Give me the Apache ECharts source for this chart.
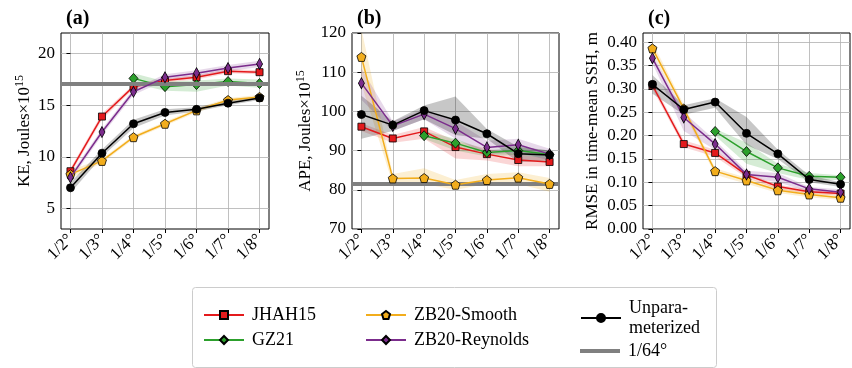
<!DOCTYPE html>
<html>
<head>
<meta charset="utf-8">
<script src="https://cdn.jsdelivr.net/npm/echarts@6/dist/echarts.min.js"></script>
<style>
html,body{margin:0;padding:0;background:#fff}
#chart{width:852px;height:368px}
</style>
</head>
<body>
<div id="chart"></div>
<script>
// resolutions on the x axis
const xLabels = ['1/2°', '1/3°', '1/4°', '1/5°', '1/6°', '1/7°', '1/8°'];
const xIdx = [0, 1, 2, 3, 4, 5, 6];
const _ = null;

// (a) kinetic energy
const keJHAH   = [8.6, 13.9, 16.8, 17.4, 17.7, 18.3, 18.2];
const keGZ     = [_, _, 17.6, 16.8, 17.0, 17.3, 17.1];
const keSmooth = [8.3, 9.6, 11.9, 13.2, 14.5, 15.5, 15.8];
const keReyn   = [8.0, 12.4, 16.3, 17.7, 18.1, 18.6, 19.0];
const keUnp    = [7.0, 10.35, 13.2, 14.3, 14.6, 15.2, 15.7];
const keLo = [
  [8.3, 13.6, 16.6, 17.2, 17.5, 18.1, 18.0],
  [_, _, 17.1, 16.4, 16.3, 16.9, 16.7],
  [7.9, 9.4, 11.7, 13.0, 14.3, 15.3, 15.6],
  [7.7, 12.1, 16.0, 17.4, 17.8, 18.3, 18.7],
  [6.5, 10.0, 12.8, 14.0, 14.4, 15.0, 15.5]
];
const keHi = [
  [8.9, 14.2, 17.0, 17.6, 17.9, 18.5, 18.4],
  [_, _, 18.1, 17.3, 17.4, 17.6, 17.5],
  [8.7, 9.8, 12.1, 13.4, 14.7, 15.7, 16.0],
  [8.3, 12.7, 16.6, 18.0, 18.4, 18.9, 19.3],
  [7.5, 10.7, 13.6, 14.6, 14.8, 15.4, 15.9]
];
const keRef = 17.05;
const keTicks = [5, 10, 15, 20];

// (b) available potential energy
const apeJHAH   = [96.1, 93.1, 94.9, 90.9, 89.1, 87.6, 87.1];
const apeGZ     = [_, _, 93.8, 91.9, 89.5, 90.0, 89.0];
const apeSmooth = [113.9, 82.9, 83.0, 81.3, 82.5, 83.1, 81.5];
const apeReyn   = [107.2, 96.3, 99.3, 95.6, 90.8, 91.5, 89.1];
const apeUnp    = [99.2, 96.5, 100.2, 97.8, 94.3, 89.2, 88.9];
const apeLo = [
  [95.0, 92.0, 93.0, 88.0, 87.5, 86.0, 86.0],
  [_, _, 93.0, 90.0, 88.5, 89.0, 88.0],
  [107.0, 81.5, 81.5, 80.0, 81.5, 81.5, 79.5],
  [103.0, 95.0, 98.0, 93.0, 89.0, 89.5, 87.5],
  [93.0, 95.0, 98.0, 94.0, 93.0, 87.0, 87.5]
];
const apeHi = [
  [97.0, 94.0, 96.0, 92.5, 90.5, 89.0, 88.0],
  [_, _, 95.0, 93.0, 90.0, 91.0, 90.0],
  [121.0, 84.0, 85.5, 82.5, 84.0, 84.5, 83.0],
  [111.0, 97.5, 100.5, 97.5, 92.5, 93.0, 90.5],
  [104.0, 97.5, 101.5, 103.8, 95.5, 91.0, 90.0]
];
const apeRef = 81.5;
const apeTicks = [70, 80, 90, 100, 110, 120];

// (c) RMSE in time-mean SSH
const rmJHAH   = [0.308, 0.182, 0.163, 0.116, 0.091, 0.080, 0.076];
const rmGZ     = [_, _, 0.209, 0.166, 0.131, 0.113, 0.111];
const rmSmooth = [0.387, 0.258, 0.124, 0.104, 0.083, 0.074, 0.067];
const rmReyn   = [0.366, 0.239, 0.182, 0.117, 0.111, 0.086, 0.079];
const rmUnp    = [0.310, 0.256, 0.272, 0.205, 0.161, 0.106, 0.096];
const rmLo = [
  [0.300, 0.175, 0.155, 0.110, 0.085, 0.075, 0.072],
  [_, _, 0.200, 0.140, 0.120, 0.105, 0.105],
  [0.375, 0.250, 0.116, 0.097, 0.077, 0.068, 0.062],
  [0.355, 0.210, 0.170, 0.110, 0.100, 0.080, 0.075],
  [0.290, 0.245, 0.260, 0.180, 0.150, 0.100, 0.090]
];
const rmHi = [
  [0.315, 0.190, 0.170, 0.120, 0.095, 0.085, 0.080],
  [_, _, 0.215, 0.185, 0.140, 0.120, 0.115],
  [0.400, 0.266, 0.130, 0.110, 0.089, 0.080, 0.072],
  [0.375, 0.250, 0.190, 0.125, 0.120, 0.090, 0.085],
  [0.330, 0.265, 0.280, 0.240, 0.170, 0.115, 0.100]
];
const rmTicks = [0, 0.05, 0.10, 0.15, 0.20, 0.25, 0.30, 0.35, 0.40];

const FONT = "'Liberation Serif','DejaVu Serif',serif";
const PENT = 'path://M0,-1L0.951,-0.309L0.588,0.809L-0.588,0.809L-0.951,-0.309Z';

const models = [
  { name: 'JHAH15', color: '#e41a1c', band: 'rgba(228,26,28,0.18)', symbol: 'rect', size: 7 },
  { name: 'GZ21', color: '#2ca02c', band: 'rgba(44,160,44,0.2)', symbol: 'diamond', size: [9, 10] },
  { name: 'ZB20-Smooth', color: '#f2ad1c', band: 'rgba(242,173,28,0.2)', symbol: PENT, size: 9 },
  { name: 'ZB20-Reynolds', color: '#7b2c8c', band: 'rgba(123,44,140,0.18)', symbol: 'diamond', size: [6, 11] },
  { name: 'Unparameterized', color: '#000', band: 'rgba(0,0,0,0.22)', symbol: 'circle', size: 8 }
];

const panels = [
  { title: '(a)', label: 'KE, Joules×10', mean: [keJHAH, keGZ, keSmooth, keReyn, keUnp], lo: keLo, hi: keHi,
    ref: keRef, min: 3, max: 22, ticks: keTicks, gap: 26, left: 61, width: 208, fmt: v => String(v) },
  { title: '(b)', label: 'APE, Joules×10', mean: [apeJHAH, apeGZ, apeSmooth, apeReyn, apeUnp], lo: apeLo, hi: apeHi,
    ref: apeRef, min: 70, max: 120, ticks: apeTicks, gap: 36, left: 352, width: 207, fmt: v => String(v) },
  { title: '(c)', label: 'RMSE in time-mean SSH, m', mean: [rmJHAH, rmGZ, rmSmooth, rmReyn, rmUnp], lo: rmLo, hi: rmHi,
    ref: null, min: 0, max: 0.42, ticks: rmTicks, gap: 42, left: 643, width: 207, fmt: v => v.toFixed(2) }
];

const chart = echarts.init(document.getElementById('chart'));

// shaded spread: one polygon through upper then lower bound, placed by the axes
function bandSeries(k, pts, lo, hi, fill) {
  return {
    type: 'custom', xAxisIndex: k, yAxisIndex: k, silent: true, z: 1, clip: true,
    data: pts.map(i => [i, lo[i], hi[i]]),
    renderItem: function (params, api) {
      if (params.dataIndex !== 0) return;
      const up = pts.map(i => api.coord([i, hi[i]]));
      const dn = pts.map(i => api.coord([i, lo[i]])).reverse();
      return { type: 'polygon', shape: { points: up.concat(dn) }, style: { fill: fill } };
    }
  };
}

const grid = [], xAxis = [], yAxis = [], series = [], title = [];
panels.forEach((p, k) => {
  grid.push({ left: p.left, top: 33, width: p.width, height: 196, show: true,
    borderColor: '#000', borderWidth: 1, backgroundColor: 'transparent' });
  title.push({ text: p.title, left: p.left, top: 4,
    textStyle: { fontFamily: FONT, fontWeight: 'bold', fontSize: 20, color: '#000' } });
  xAxis.push({
    type: 'value', gridIndex: k, min: -0.3, max: 6.3,
    axisLine: { show: false },
    axisTick: { show: true, length: 4, lineStyle: { color: '#000' }, customValues: xIdx },
    axisLabel: { customValues: xIdx, rotate: 45, margin: 8, color: '#000', fontFamily: FONT, fontSize: 17,
      formatter: v => xLabels[Math.round(v)] },
    splitLine: { show: true, lineStyle: { color: '#b0b0b0', width: 0.8 } }
  });
  const yName = p.ref === null ? p.label : '{a|' + p.label + '}{s|15}';
  yAxis.push({
    type: 'value', gridIndex: k, min: p.min, max: p.max,
    name: yName, nameLocation: 'middle', nameGap: p.gap,
    nameTextStyle: { fontFamily: FONT, fontSize: 17, color: '#000',
      rich: { a: { fontFamily: FONT, fontSize: 17, color: '#000' },
              s: { fontFamily: FONT, fontSize: 12, color: '#000', padding: [0, 0, 9, 0] } } },
    axisLine: { show: false },
    axisTick: { show: true, length: 4, lineStyle: { color: '#000' }, customValues: p.ticks },
    axisLabel: { customValues: p.ticks, color: '#000', fontFamily: FONT, fontSize: 17, margin: 6, formatter: p.fmt },
    splitLine: { show: true, lineStyle: { color: '#b0b0b0', width: 0.8 } }
  });

  if (p.ref !== null) {
    series.push({
      type: 'line', name: '1/64°', xAxisIndex: k, yAxisIndex: k, data: [], z: 2,
      symbol: 'none', lineStyle: { color: '#808080', width: 4 }, itemStyle: { color: '#808080' },
      markLine: { silent: true, symbol: 'none', label: { show: false },
        lineStyle: { color: '#808080', width: 4, type: 'solid' },
        emphasis: { disabled: true }, data: [{ yAxis: p.ref }] }
    });
  }

  models.forEach((m, j) => {
    const pts = xIdx.filter(i => p.mean[j][i] !== null);
    series.push(bandSeries(k, pts, p.lo[j], p.hi[j], m.band));
  });
  models.forEach((m, j) => {
    const pts = xIdx.filter(i => p.mean[j][i] !== null);
    series.push({
      type: 'line', name: m.name, xAxisIndex: k, yAxisIndex: k, z: 3 + j,
      symbol: m.symbol, symbolSize: m.size, showAllSymbol: true,
      lineStyle: { color: m.color, width: 1.5 },
      itemStyle: { color: m.color, borderColor: '#000', borderWidth: 0.8 },
      data: pts.map(i => [i, p.mean[j][i]])
    });
  });
});

const legendText = { fontFamily: FONT, fontSize: 18, color: '#000', padding: [0, 0, 0, 3] };
const option = {
  animation: false,
  backgroundColor: '#fff',
  title: title,
  grid: grid,
  xAxis: xAxis,
  yAxis: yAxis,
  series: series,
  graphic: [{
    type: 'rect', left: 192, top: 287, z: -1,
    shape: { width: 524, height: 80, r: 3 },
    style: { fill: '#fff', stroke: '#cccccc', lineWidth: 1 }
  }],
  legend: [
    { left: 198, top: 301, orient: 'vertical', itemWidth: 40, itemHeight: 10, itemGap: 7,
      textStyle: legendText, data: ['JHAH15', 'GZ21'], selectedMode: false },
    { left: 360, top: 301, orient: 'vertical', itemWidth: 40, itemHeight: 10, itemGap: 7,
      textStyle: legendText, data: ['ZB20-Smooth', 'ZB20-Reynolds'], selectedMode: false },
    { left: 575, top: 293, orient: 'vertical', itemWidth: 40, itemHeight: 10,
      textStyle: Object.assign({ lineHeight: 20 }, legendText), data: ['Unparameterized'],
      formatter: () => 'Unpara-\nmeterized', selectedMode: false },
    { left: 575, top: 337, orient: 'vertical', itemWidth: 40, itemHeight: 4,
      textStyle: legendText, data: [{ name: '1/64°', icon: 'rect' }], selectedMode: false }
  ]
};
chart.setOption(option);
</script>
</body>
</html>
